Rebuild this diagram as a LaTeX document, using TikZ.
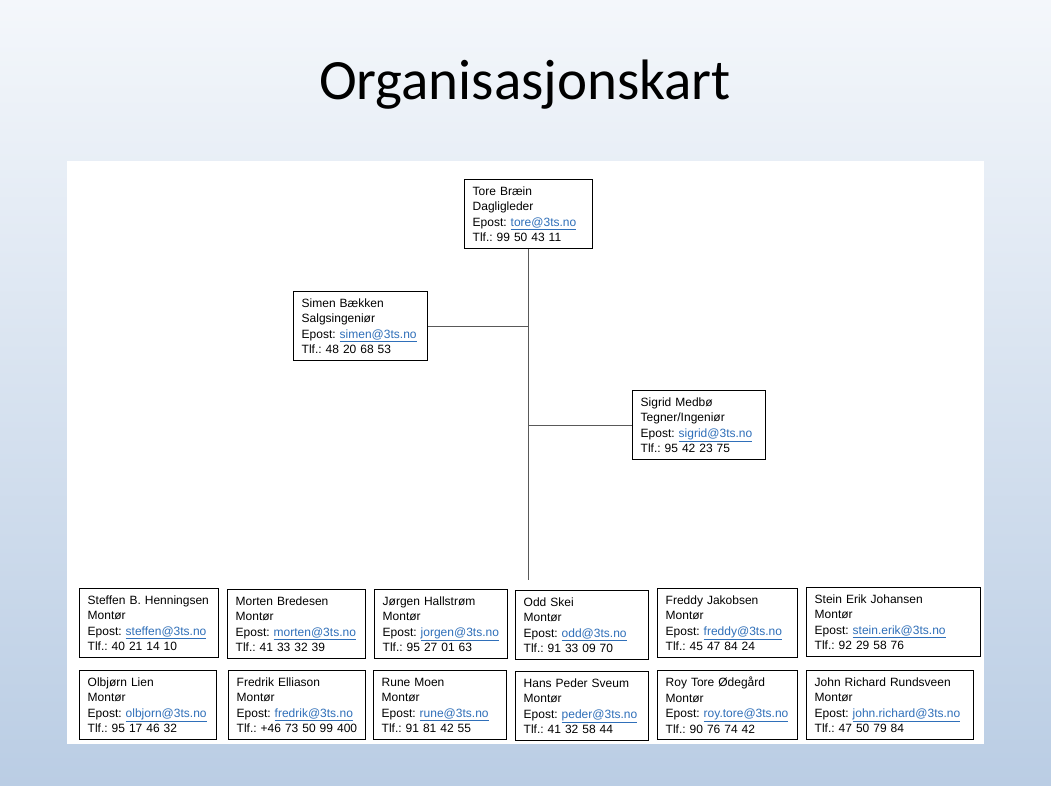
\documentclass[tikz,border=0pt]{standalone}
\usepackage{fontspec}
\setmainfont{Liberation Sans}
\newfontfamily\titlefont{Carlito}

\definecolor{linkblue}{RGB}{47,111,185}
\definecolor{slidetop}{RGB}{244,247,251}
\definecolor{slidebottom}{RGB}{186,205,228}
\newcommand{\mail}[1]{Epost:~\textcolor{linkblue}{\underline{#1}}}

\begin{document}
\begin{tikzpicture}[x=1pt, y=-1pt,
  person/.style={draw, line width=1.4pt, anchor=north west, align=left,
    text width=#1, inner xsep=8pt, inner ysep=0pt, minimum height=69pt,
    font=\fontsize{12}{15.5}\selectfont\frenchspacing},
  branch/.style={draw=black!65, line width=1pt}]

\useasboundingbox (0,0) rectangle (1051,786);
\shade[top color=slidetop, bottom color=slidebottom] (0,0) rectangle (1051,786);
\fill[white] (67,161) rectangle (984,744);

\node[anchor=base, font=\titlefont\fontsize{57}{60}\selectfont] (T) at (525,100) {Organisasjonskart};

\node[person=112] (Tore)   at (464,179) {Tore Bræin\\Dagligleder\\\mail{tore@3ts.no}\\Tlf.: 99 50 43 11};
\node[person=118] (Simen)  at (293,291) {Simen Bækken\\Salgsingeniør\\\mail{simen@3ts.no}\\Tlf.: 48 20 68 53};
\node[person=117] (Sigrid) at (632,390) {Sigrid Medbø\\Tegner/Ingeniør\\\mail{sigrid@3ts.no}\\Tlf.: 95 42 23 75};

\node[person=123] (Steffen) at (79,588)  {Steffen B. Henningsen\\Montør\\\mail{steffen@3ts.no}\\Tlf.: 40 21 14 10};
\node[person=122] (Morten)  at (227,589) {Morten Bredesen\\Montør\\\mail{morten@3ts.no}\\Tlf.: 41 33 32 39};
\node[person=117] (Jorgen)  at (374,589) {Jørgen Hallstrøm\\Montør\\\mail{jorgen@3ts.no}\\Tlf.: 95 27 01 63};
\node[person=117] (Odd)     at (515,590) {Odd Skei\\Montør\\\mail{odd@3ts.no}\\Tlf.: 91 33 09 70};
\node[person=124] (Freddy)  at (657,588) {Freddy Jakobsen\\Montør\\\mail{freddy@3ts.no}\\Tlf.: 45 47 84 24};
\node[person=158] (Stein)   at (806,587) {Stein Erik Johansen\\Montør\\\mail{stein.erik@3ts.no}\\Tlf.: 92 29 58 76};

\node[person=121] (Olbjorn) at (79,670)  {Olbjørn Lien\\Montør\\\mail{olbjorn@3ts.no}\\Tlf.: 95 17 46 32};
\node[person=121] (Fredrik) at (228,670) {Fredrik Elliason\\Montør\\\mail{fredrik@3ts.no}\\Tlf.: +46 73 50 99 400};
\node[person=117] (Rune)    at (373,670) {Rune Moen\\Montør\\\mail{rune@3ts.no}\\Tlf.: 91 81 42 55};
\node[person=117] (Hans)    at (515,671) {Hans Peder Sveum\\Montør\\\mail{peder@3ts.no}\\Tlf.: 41 32 58 44};
\node[person=124] (Roy)     at (657,670) {Roy Tore Ødegård\\Montør\\\mail{roy.tore@3ts.no}\\Tlf.: 90 76 74 42};
\node[person=151] (John)    at (806,670) {John Richard Rundsveen\\Montør\\\mail{john.richard@3ts.no}\\Tlf.: 47 50 79 84};

\coordinate (End) at (Tore.south |- 0,580);

\draw[branch] (Tore) -- (End);
\draw[branch] (Simen) -- (Simen.east -| Tore.south);
\draw[branch] (Sigrid) -- (Sigrid.west -| Tore.south);
\end{tikzpicture}
\end{document}
